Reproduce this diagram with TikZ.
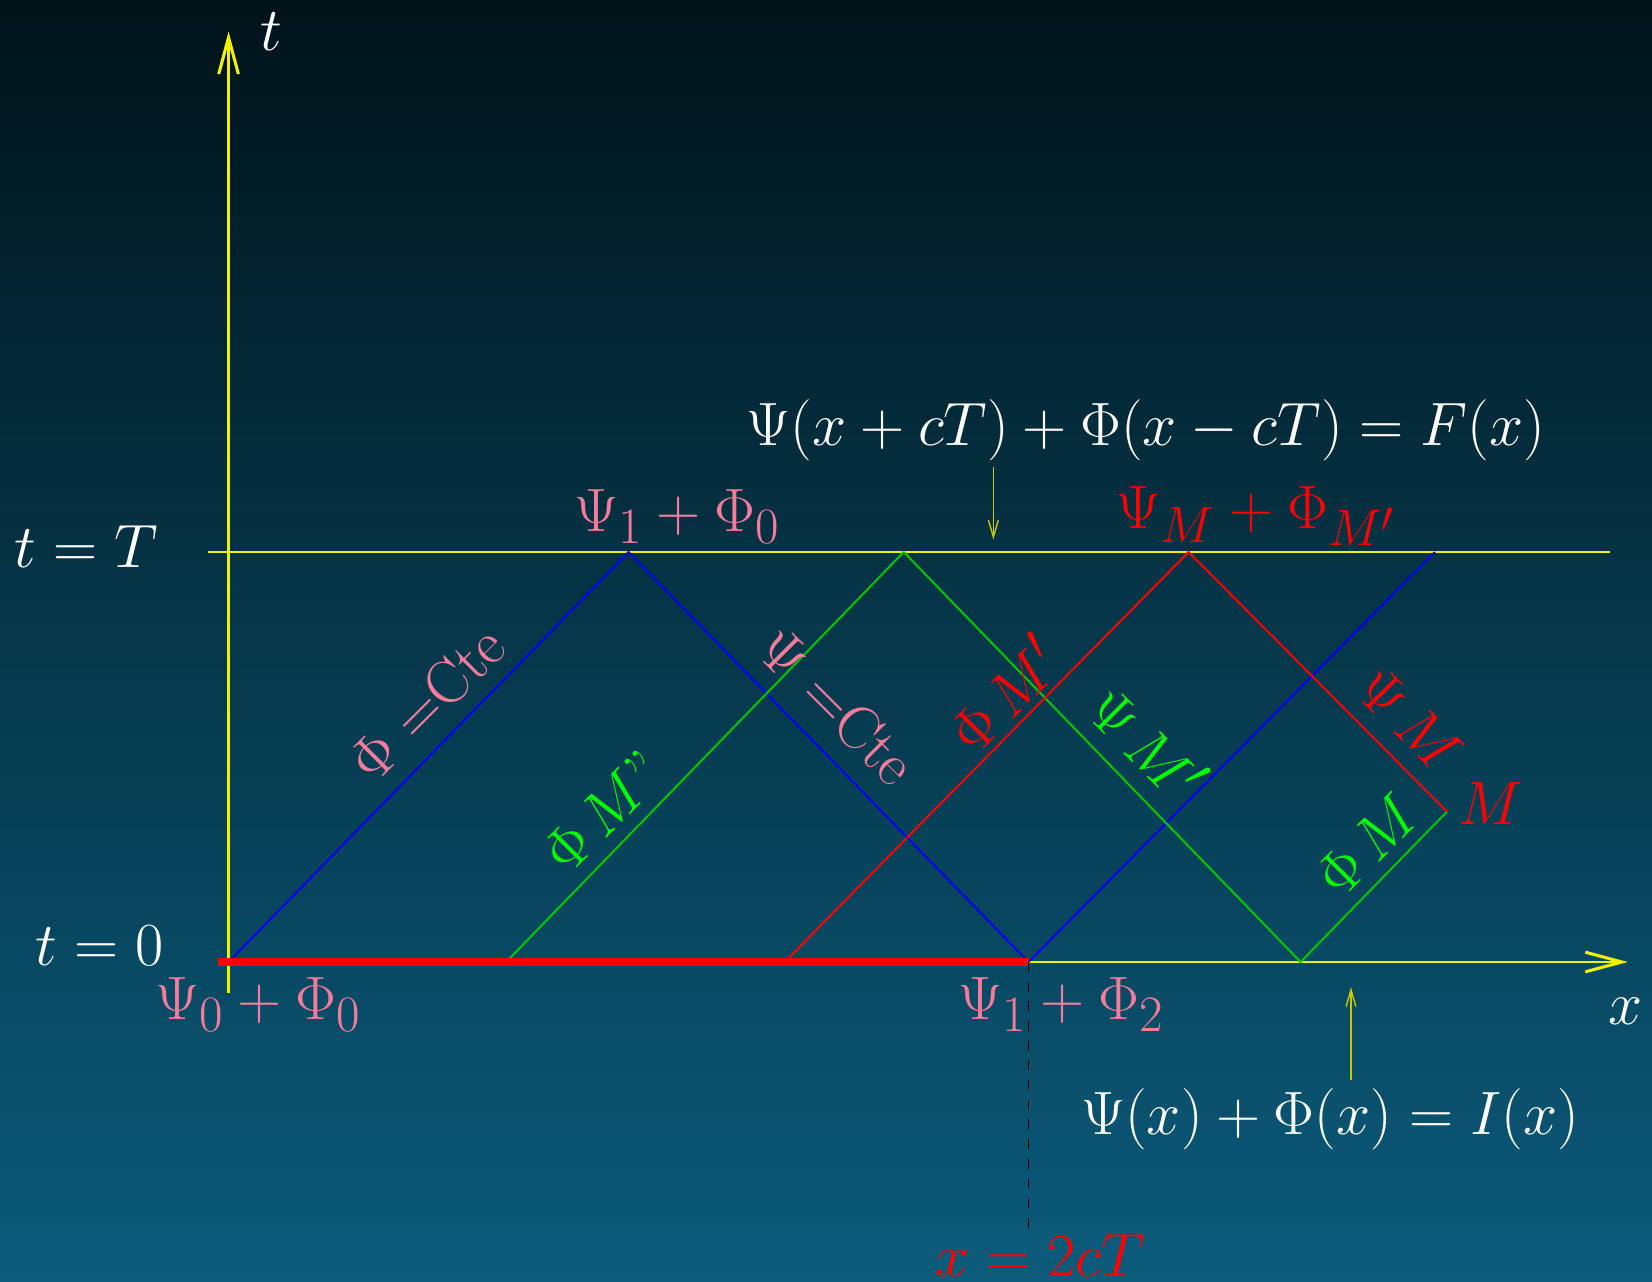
\documentclass[tikz,border=0pt]{standalone}
\usetikzlibrary{arrows.meta}
\DeclareMathSizes{20.74}{20.74}{17.28}{14.4}
\definecolor{bgtop}{RGB}{0,19,25}
\definecolor{bgbot}{RGB}{11,91,123}
\definecolor{rose}{RGB}{245,125,155}
\definecolor{vert}{RGB}{0,200,0}
\definecolor{vertclair}{RGB}{0,255,0}
\definecolor{jaune}{RGB}{240,240,0}
\definecolor{jauneterne}{RGB}{200,200,0}

\begin{document}
\begin{tikzpicture}[>={Straight Barb[length=13pt,width=7pt,line width=1.1pt]},
  every node/.style={font=\huge,scale=1.05}]
  \shade[top color=bgtop, bottom color=bgbot] (-2.857,-3.988) rectangle (17.793,12.025);
  \useasboundingbox (-2.857,-3.988) rectangle (17.793,12.025);
  \coordinate (O) at (0,0);
  \coordinate (tb) at (0,-0.39);
  \coordinate (tt) at (0,11.63);
  \coordinate (xe) at (17.49,0);
  \coordinate (Tl) at (-0.26,5.125);
  \coordinate (Tr) at (17.27,5.125);
  \coordinate (B1) at (5,5.125);
  \coordinate (B2) at (10,0);
  \coordinate (B3) at (15.08,5.125);
  \coordinate (G0) at (3.47,0);
  \coordinate (G1) at (8.44,5.125);
  \coordinate (G2) at (13.4,0);
  \coordinate (Mc) at (15.23,1.88);
  \coordinate (R0) at (6.95,0);
  \coordinate (R1) at (12,5.125);
  \coordinate (r0) at (-0.13,0);
  \draw[jaune,line width=0.8pt,->] (tb) -- (tt);
  \draw[jaune,line width=0.8pt,->] (O) -- (xe);
  \draw[jaune,line width=0.8pt] (Tl) -- (Tr);
  \draw[blue,line width=0.7pt] (O) -- (B1) -- (B2) -- (B3);
  \draw[vert,line width=0.7pt] (G0) -- (G1) -- (G2) -- (Mc);
  \draw[red,line width=0.7pt] (R0) -- (R1) -- (Mc);
  \draw[red,line width=3pt] (r0) -- (B2);
  \node[white] (t) at (0.54,11.63) {$t$};
  \node[white] (tT) at (-1.78,5.19) {$t=T$};
  \node[white] (t0) at (-1.61,0.2) {$t=0$};
  \node[white] (x) at (17.46,-0.62) {$x$};
  \node[rose] (S00) at (0.37,-0.53) {$\Psi_0+\Phi_0$};
  \node[rose] (S10) at (5.61,5.57) {$\Psi_1+\Phi_0$};
  \node[rose] (S12) at (10.41,-0.53) {$\Psi_1+\Phi_2$};
  \node[red] (SM) at (12.85,5.57) {$\Psi_M+\Phi_{M'}$};
  \node[red] (M) at (15.78,1.98) {$M$};
  \node[white] (F) at (11.47,6.65) {$\Psi(x+cT)+\Phi(x-cT)=F(x)$};
  \node[white] (I) at (13.77,-1.96) {$\Psi(x)+\Phi(x)=I(x)$};
  \node[red] (L) at (10.14,-3.67) {$x=2cT$};
  \node[rose,rotate=45] (PhiC) at (2.48,3.23) {$\Phi$ =Cte};
  \node[rose,rotate=-45] (PsiC) at (7.61,3.2) {$\Psi$ =Cte};
  \node[vertclair,rotate=45] (PhiMs) at (4.69,1.88) {$\Phi\,M$''};
  \node[red,rotate=45] (PhiMp) at (9.69,3.36) {$\Phi\,M'$};
  \node[vertclair,rotate=-45] (PsiMp) at (11.5,2.74) {$\Psi\,M'$};
  \node[red,rotate=-45] (PsiM) at (14.76,3.03) {$\Psi\,M$};
  \node[vertclair,rotate=45] (PhiM) at (14.24,1.46) {$\Phi\,M$};
  \coordinate (Fa) at (9.56,6.19);
  \coordinate (Fb) at (9.56,5.28);
  \coordinate (Ia) at (14.03,-1.475);
  \coordinate (Ib) at (14.03,-0.315);
  \coordinate (Lt) at (10,-3.38);
  \draw[jauneterne,line width=0.5pt,-{Straight Barb[length=6pt,width=3.5pt]}] (Fa) -- (Fb);
  \draw[jauneterne,line width=0.5pt,-{Straight Barb[length=6pt,width=3.5pt]}] (Ia) -- (Ib);
  \draw[line width=0.5pt,dash pattern=on 3.5pt off 3.5pt] (B2) -- (Lt);
\end{tikzpicture}
\end{document}
